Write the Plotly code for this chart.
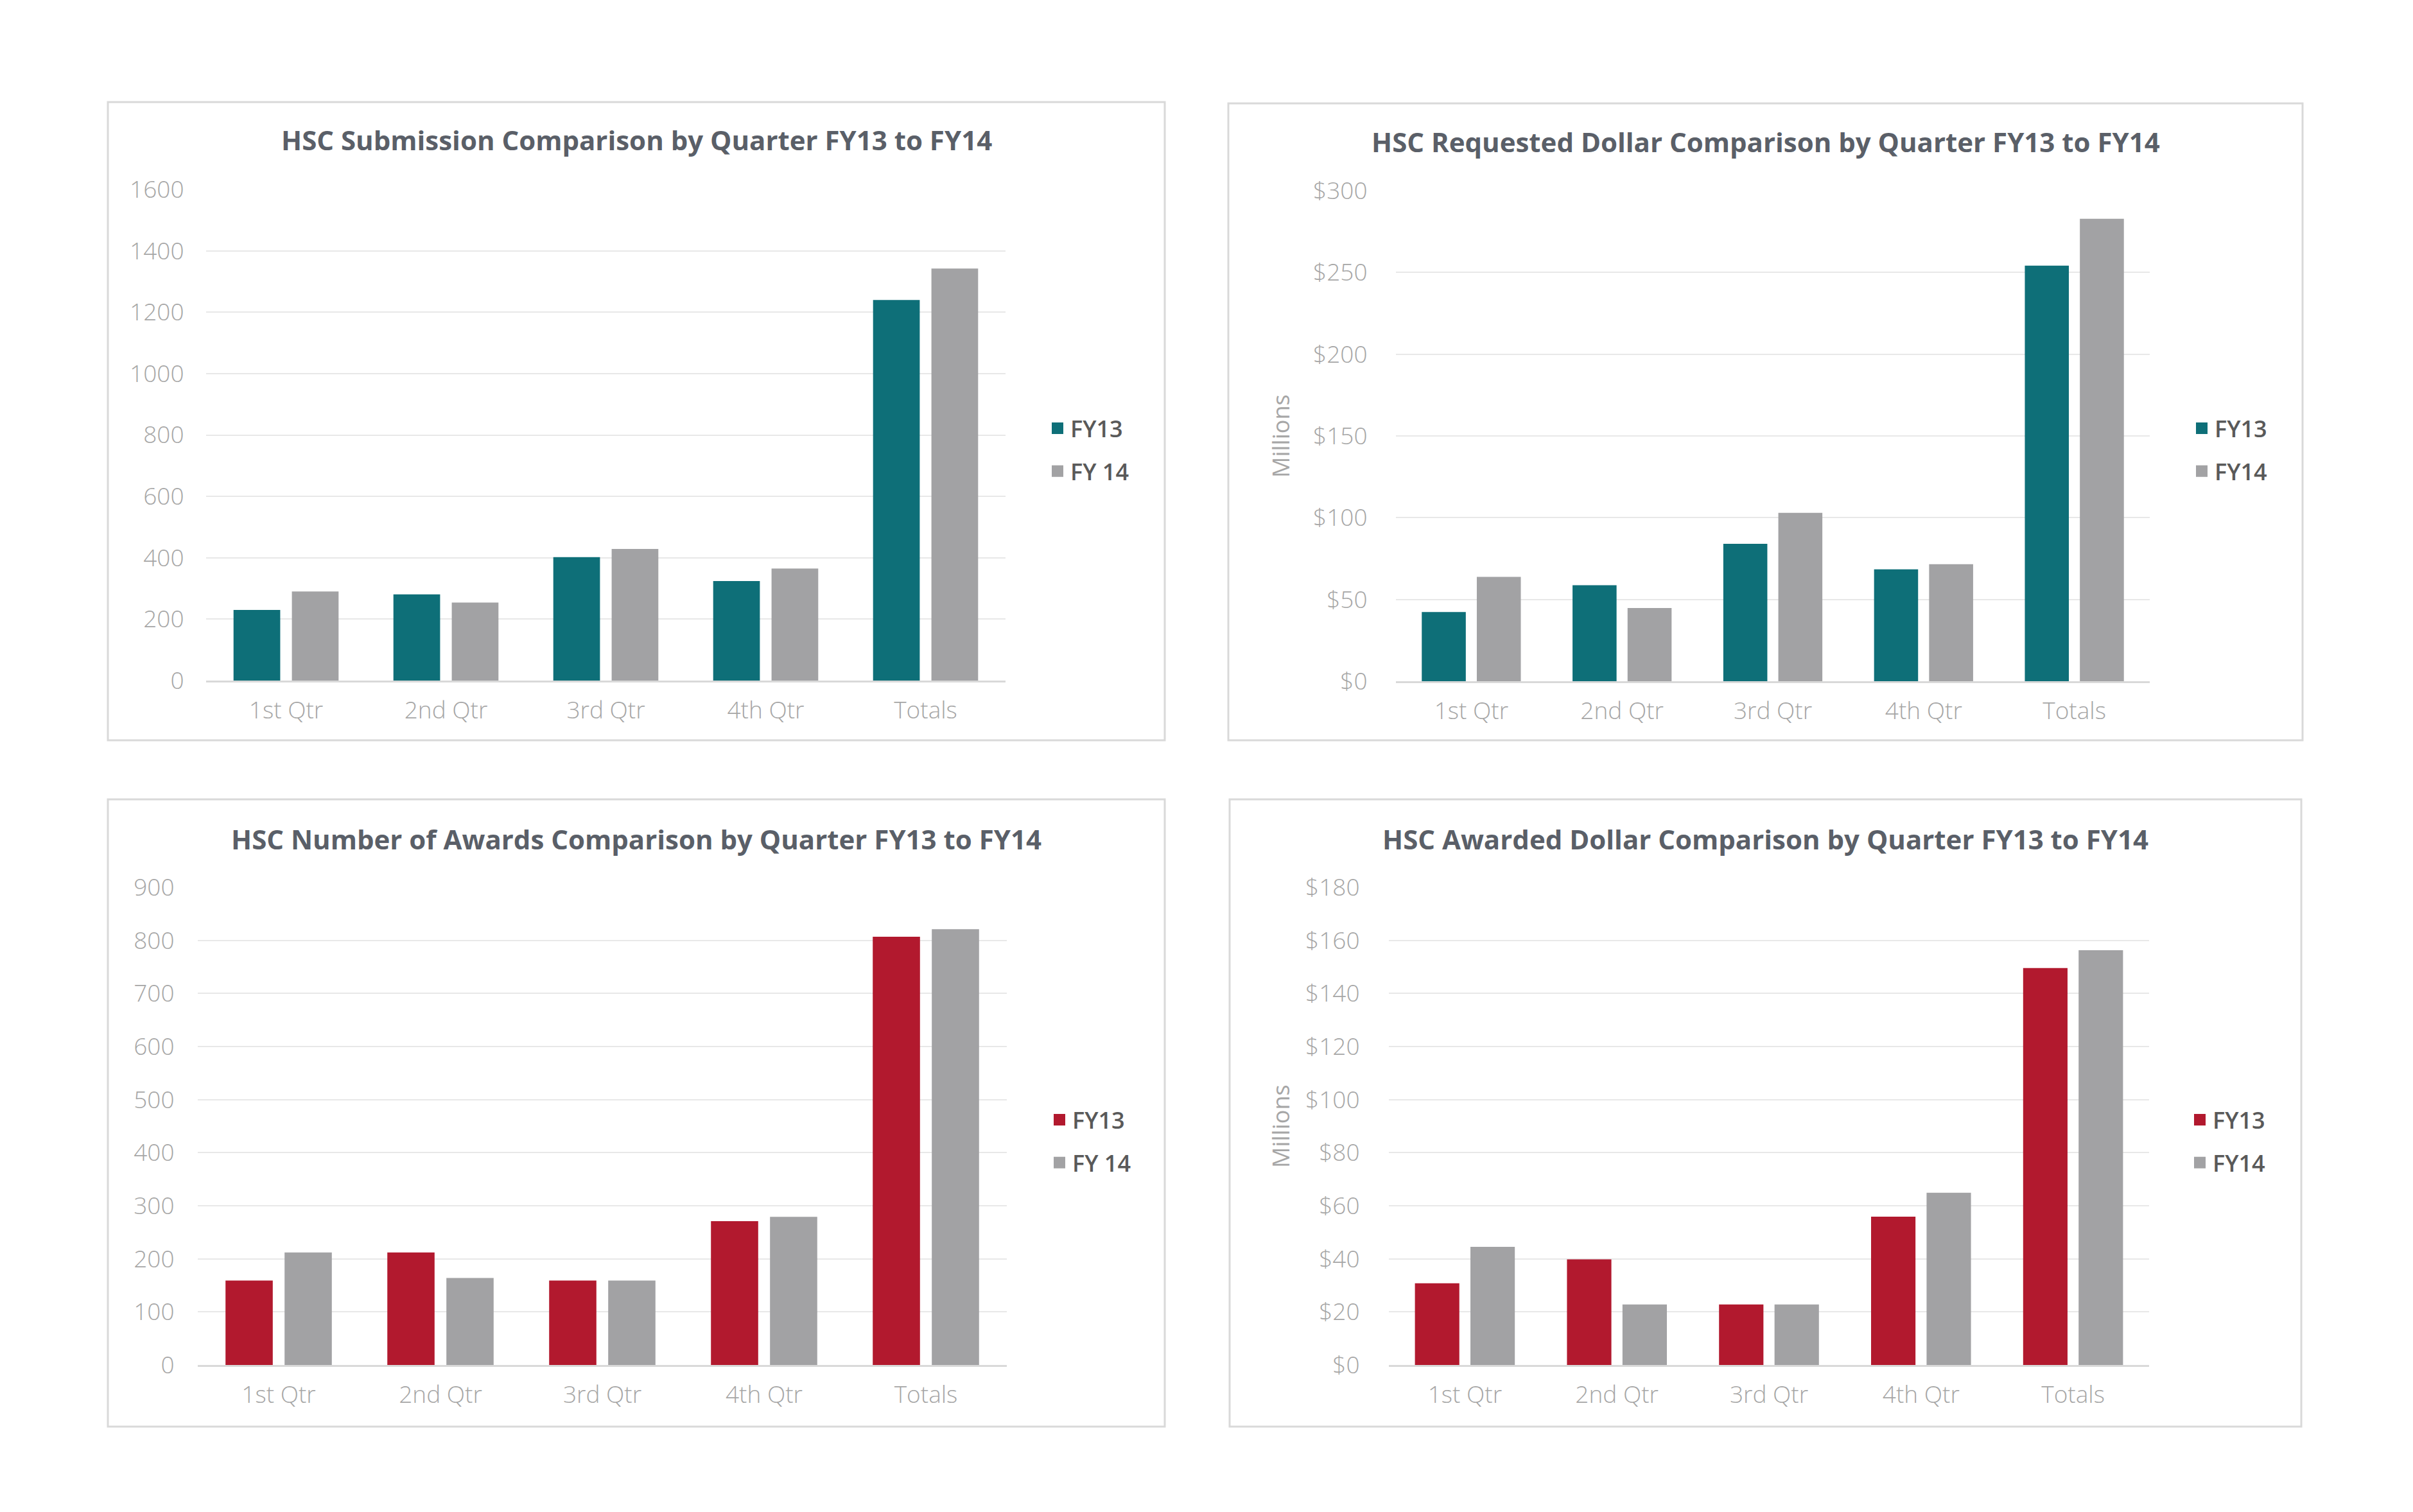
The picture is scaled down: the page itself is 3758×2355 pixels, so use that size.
import plotly.graph_objects as go

W, H = 3758, 2355

categories = ["1st Qtr", "2nd Qtr", "3rd Qtr", "4th Qtr", "Totals"]

sub_fy13 = [230, 281, 402, 324, 1240]
sub_fy14 = [290, 254, 429, 365, 1342]

req_fy13 = [42.3, 58.7, 84.0, 68.4, 254.2]
req_fy14 = [63.8, 44.8, 103.0, 71.6, 282.8]

awd_fy13 = [159, 212, 159, 271, 807]
awd_fy14 = [212, 164, 159, 279, 821]

amt_fy13 = [30.8, 39.8, 22.8, 55.9, 149.6]
amt_fy14 = [44.5, 22.8, 22.8, 64.9, 156.3]

titles = [
    "HSC Submission Comparison by Quarter FY13 to FY14",
    "HSC Requested Dollar Comparison by Quarter FY13 to FY14",
    "HSC Number of Awards Comparison by Quarter FY13 to FY14",
    "HSC Awarded Dollar Comparison by Quarter FY13 to FY14",
]
legend_names = [("FY13", "FY 14"), ("FY13", "FY14"), ("FY13", "FY 14"), ("FY13", "FY14")]

TEAL = "#0E6F78"
RED = "#B2192E"
GRAY = "#A2A2A4"
TICK = "#A6A6A6"
TITLE = "#5A5F68"
LEGTXT = "#595959"
GRID = "#E8E8E8"
AXIS = "#D9D9D9"
FONT = "Open Sans"

# panel geometry in pixels
panels = [
    dict(box=(168, 159, 1814, 1153), px=(321, 1566), py=(295, 1060), ty=218,
         leg=(1627, 637), ygap=26, millions=False),
    dict(box=(1913, 161, 3586, 1153), px=(2174, 3348), py=(297, 1061), ty=221,
         leg=(3409, 637), ygap=36, millions=True),
    dict(box=(168, 1245, 1814, 2222), px=(308, 1568), py=(1382, 2126), ty=1306,
         leg=(1630, 1714), ygap=28, millions=False),
    dict(box=(1915, 1245, 3584, 2222), px=(2163, 3347), py=(1382, 2126), ty=1306,
         leg=(3406, 1714), ygap=37, millions=True),
]

series = [
    (sub_fy13, sub_fy14, TEAL, (0, 1600), 200, ""),
    (req_fy13, req_fy14, TEAL, (0, 300), 50, "$"),
    (awd_fy13, awd_fy14, RED, (0, 900), 100, ""),
    (amt_fy13, amt_fy14, RED, (0, 180), 20, "$"),
]

def fx(p):
    return p / W

def fy(p):
    return 1 - p / H

fig = go.Figure()
shapes = []
annotations = []
layout = {}

for i, (pan, (s13, s14, col, yr, dt, pre)) in enumerate(zip(panels, series)):
    n = i + 1
    xa = "x" if n == 1 else f"x{n}"
    ya = "y" if n == 1 else f"y{n}"
    lg = "legend" if n == 1 else f"legend{n}"
    n13, n14 = legend_names[i]
    fig.add_trace(go.Bar(x=categories, y=s13, name=n13, marker=dict(color=col, line=dict(width=0)),
                         xaxis=xa, yaxis=ya, showlegend=False, offsetgroup="a"))
    fig.add_trace(go.Bar(x=categories, y=s14, name=n14, marker=dict(color=GRAY, line=dict(width=0)),
                         xaxis=xa, yaxis=ya, showlegend=False, offsetgroup="b"))
    # legend entries
    fig.add_trace(go.Scatter(x=[None], y=[None], mode="markers", name=n13,
                             marker=dict(symbol="square", size=16, color=col, line=dict(width=2, color=col)),
                             xaxis=xa, yaxis=ya, legend=lg, legendgroup=f"a{n}"))
    fig.add_trace(go.Scatter(x=[None], y=[None], mode="markers", name=n14,
                             marker=dict(symbol="square", size=16, color=GRAY, line=dict(width=2, color=GRAY)),
                             xaxis=xa, yaxis=ya, legend=lg, legendgroup=f"b{n}"))

    xkey = "xaxis" if n == 1 else f"xaxis{n}"
    ykey = "yaxis" if n == 1 else f"yaxis{n}"
    layout[xkey] = dict(domain=[fx(pan["px"][0]), fx(pan["px"][1])], anchor=ya, automargin=False,
                        type="category", showgrid=False, showline=True, linecolor=AXIS, linewidth=3,
                        ticks="outside", ticklen=12, tickcolor="rgba(0,0,0,0)",
                        tickfont=dict(family=FONT, size=37, color=TICK, weight=300),
                        zeroline=False, fixedrange=True)
    layout[ykey] = dict(domain=[fy(pan["py"][1]), fy(pan["py"][0])], anchor=xa, automargin=False,
                        range=list(yr), dtick=dt, tick0=0, tickprefix=pre,
                        showgrid=True, gridcolor=GRID, gridwidth=2, zeroline=False, showline=False,
                        ticks="outside", ticklen=pan["ygap"], tickcolor="rgba(0,0,0,0)",
                        tickfont=dict(family=FONT, size=37, color=TICK, weight=300), fixedrange=True)
    layout[lg] = dict(x=fx(pan["leg"][0]), y=fy(pan["leg"][1]), xanchor="left", yanchor="top",
                      font=dict(family=FONT, size=36, color=LEGTXT, weight=600),
                      bgcolor="rgba(0,0,0,0)", tracegroupgap=17, itemclick=False)

    b = pan["box"]
    shapes.append(dict(type="rect", xref="paper", yref="paper", x0=fx(b[0]), x1=fx(b[2]),
                       y0=fy(b[3]), y1=fy(b[1]), line=dict(color=AXIS, width=3), layer="below"))
    annotations.append(dict(text=titles[i], xref="paper", yref="paper", x=fx((b[0] + b[2]) / 2),
                            y=fy(pan["ty"]), xanchor="center", yanchor="middle", showarrow=False,
                            font=dict(family=FONT, size=42, color=TITLE, weight=700)))
    if pan["millions"]:
        annotations.append(dict(text="Millions", xref="paper", yref="paper", x=fx(1995),
                                y=fy((pan["py"][0] + pan["py"][1]) / 2), xanchor="center", yanchor="middle",
                                textangle=-90, showarrow=False,
                                font=dict(family=FONT, size=36, color=TICK, weight=400)))

fig.update_layout(width=W, height=H, margin=dict(l=0, r=0, t=0, b=0, pad=0, autoexpand=False),
                  paper_bgcolor="white", plot_bgcolor="white",
                  barmode="group", bargap=0.27, bargroupgap=0.2,
                  shapes=shapes, annotations=annotations, **layout)

pin_page = (
    "var gd=document.getElementById('{plot_id}');"
    "document.documentElement.style.margin='0';document.body.style.margin='0';"
    "document.documentElement.style.overflow='hidden';"
    "gd.style.position='fixed';gd.style.left='0px';gd.style.top='0px';"
)

fig.write_html("out.html", post_script=pin_page, config={"displayModeBar": False})
